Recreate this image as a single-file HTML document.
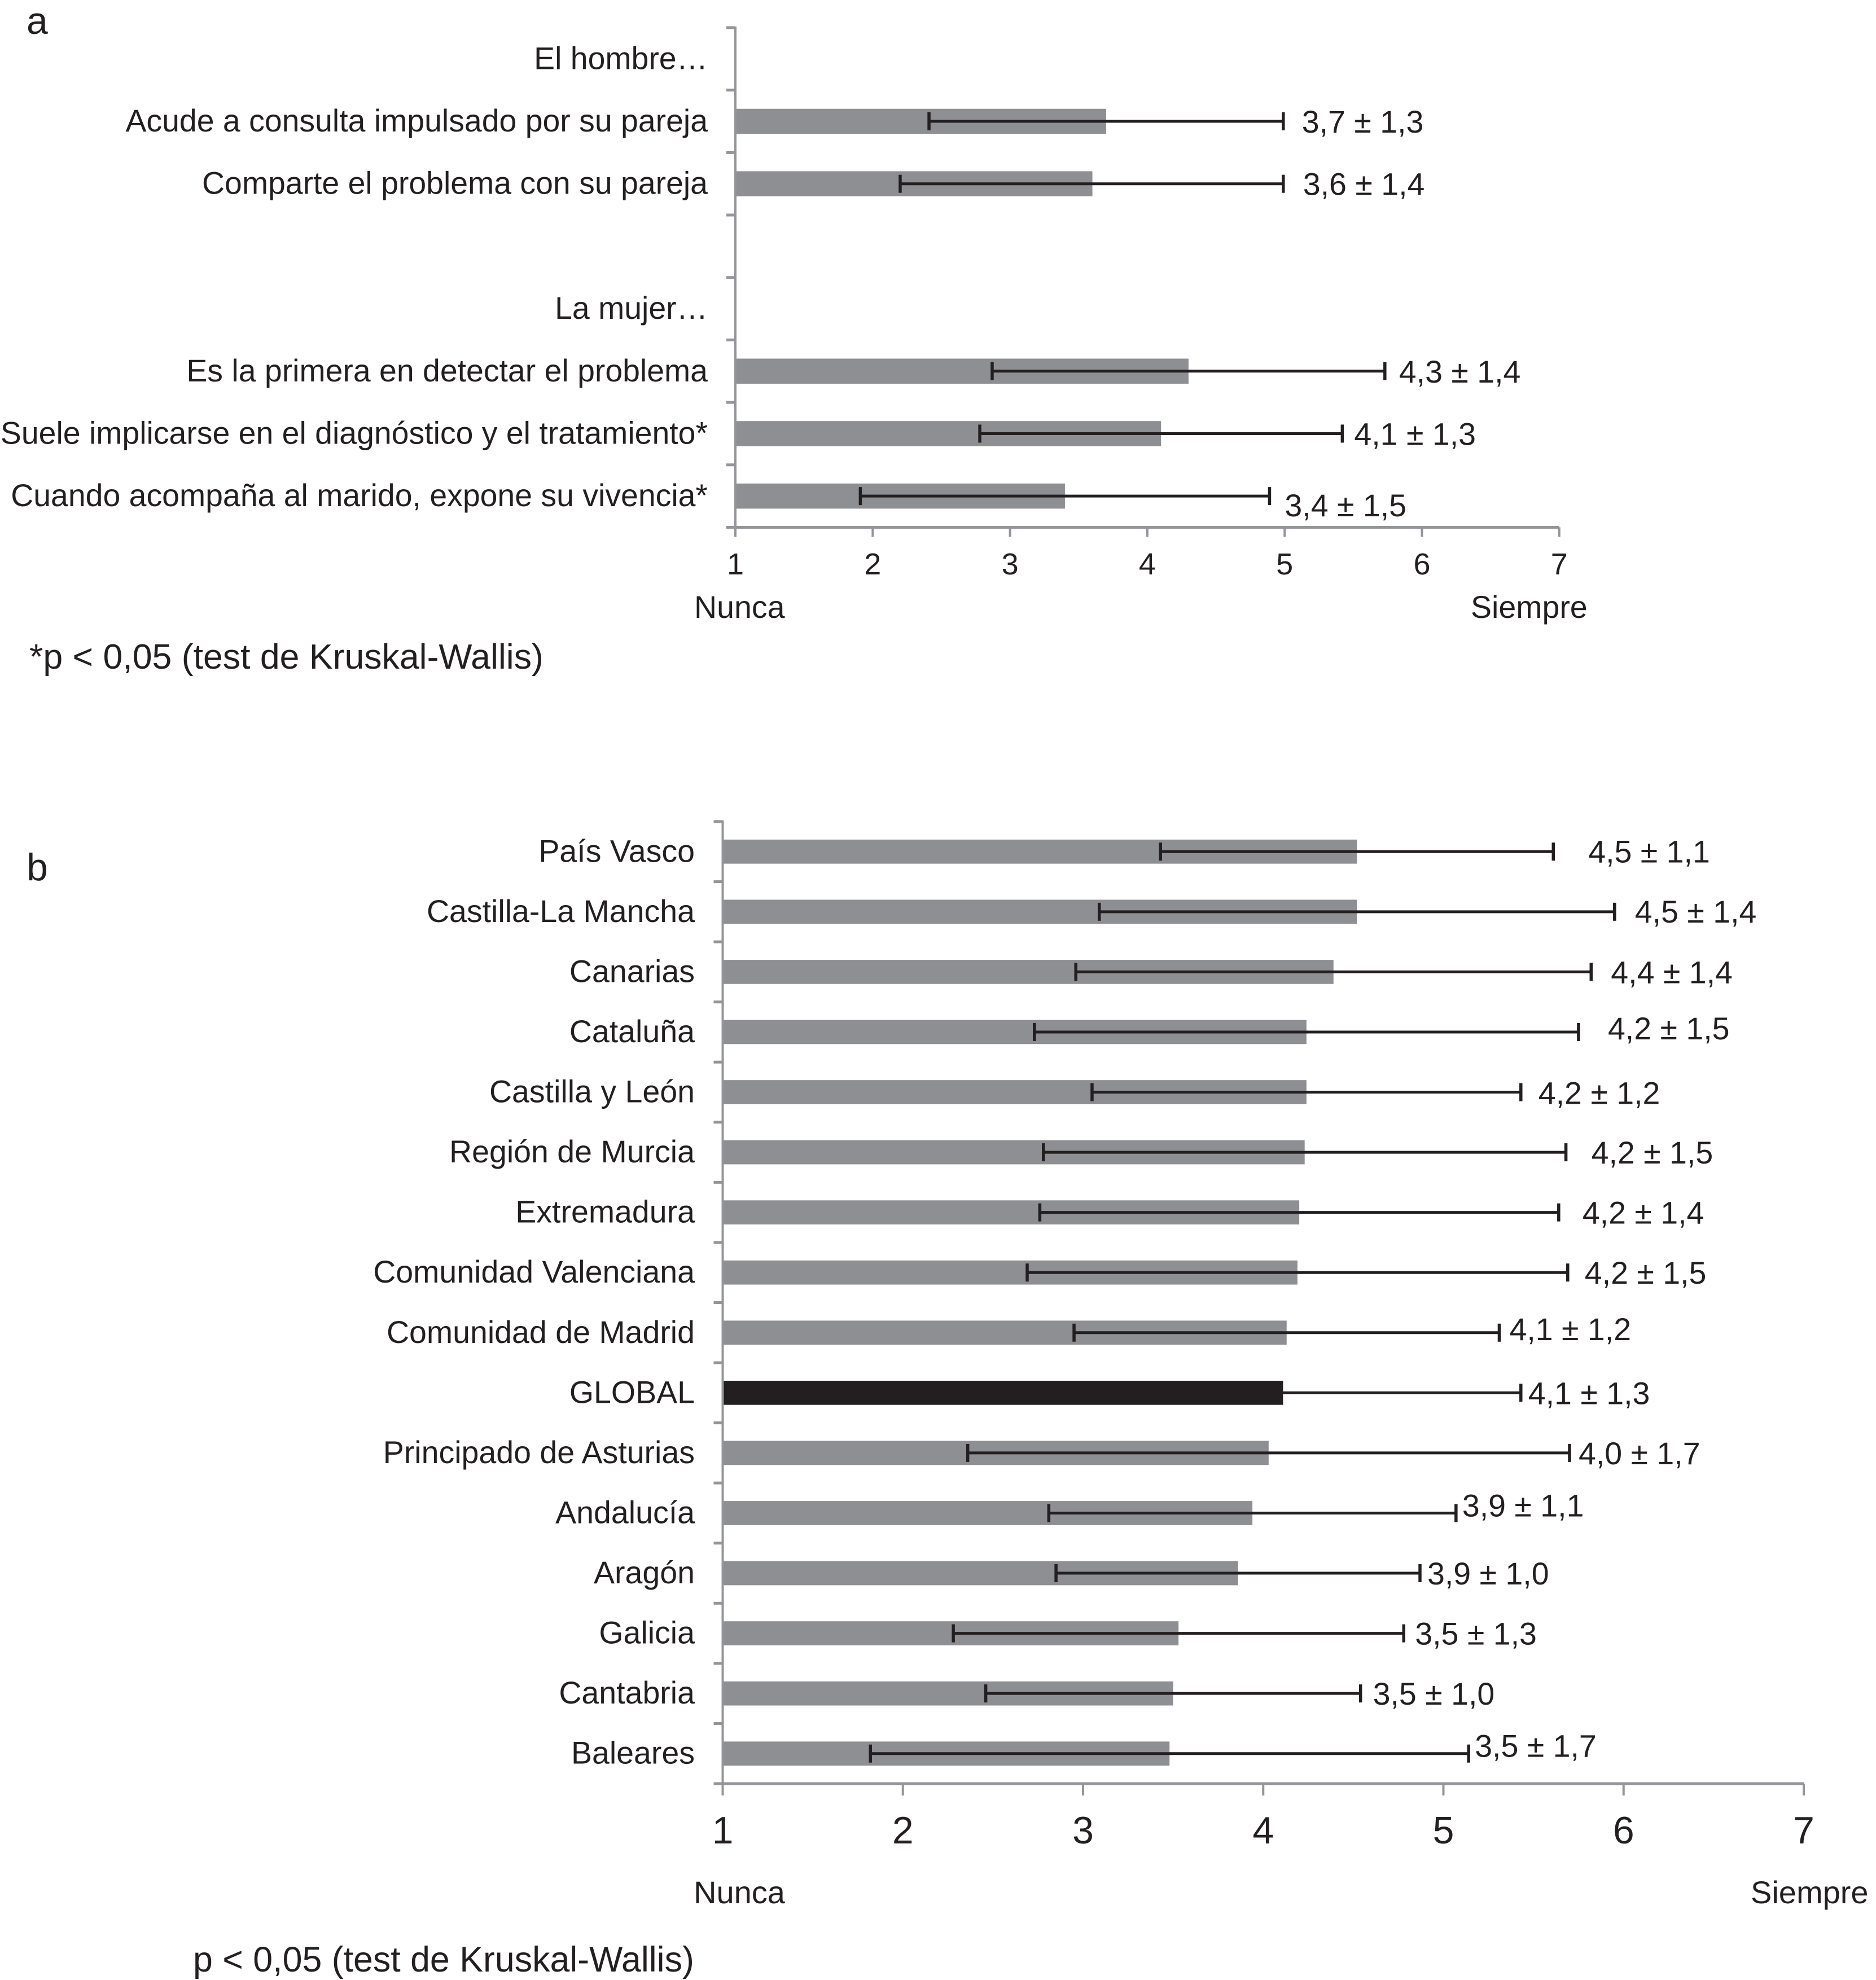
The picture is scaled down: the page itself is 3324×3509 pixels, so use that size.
<!DOCTYPE html>
<html lang="es">
<head>
<meta charset="utf-8">
<title>Gráfico de barras</title>
<style>
html,body{margin:0;padding:0;background:#fff;width:3324px;height:3509px;overflow:hidden}
svg{display:block}
text{font-family:"Liberation Sans",sans-serif;fill:#231f20}
</style>
</head>
<body>
<svg id="chart" xmlns="http://www.w3.org/2000/svg" width="3324" height="3509" viewBox="0 0 3324 3509">
<rect x="0" y="0" width="3324" height="3509" fill="#fff"/>
<text x="47" y="60" font-size="68">a</text>
<text x="47" y="1560" font-size="68">b</text>
<text x="52" y="1185" font-size="62.6">*p &lt; 0,05 (test de Kruskal-Wallis)</text>
<text x="342" y="3494" font-size="62.7">p &lt; 0,05 (test de Kruskal-Wallis)</text>
<g id="panel-a"></g>
<g id="panel-b"></g>
</svg>
<script>
const xTickLabels = [1, 2, 3, 4, 5, 6, 7];

const panelACategories = ["El hombre…", "Acude a consulta impulsado por su pareja", "Comparte el problema con su pareja", "", "La mujer…", "Es la primera en detectar el problema", "Suele implicarse en el diagnóstico y el tratamiento*", "Cuando acompaña al marido, expone su vivencia*"];
const panelAMeans = [null, 3.70, 3.60, null, null, 4.30, 4.10, 3.40];
const panelALower = [null, 2.41, 2.20, null, null, 2.87, 2.78, 1.91];
const panelAUpper = [null, 4.99, 4.99, null, null, 5.73, 5.42, 4.89];
const panelAValueLabels = [null, "3,7 ± 1,3", "3,6 ± 1,4", null, null, "4,3 ± 1,4", "4,1 ± 1,3", "3,4 ± 1,5"];

const panelBCategories = ["País Vasco", "Castilla-La Mancha", "Canarias", "Cataluña", "Castilla y León", "Región de Murcia", "Extremadura", "Comunidad Valenciana", "Comunidad de Madrid", "GLOBAL", "Principado de Asturias", "Andalucía", "Aragón", "Galicia", "Cantabria", "Baleares"];
const panelBMeans = [4.52, 4.52, 4.39, 4.24, 4.24, 4.23, 4.20, 4.19, 4.13, 4.11, 4.03, 3.94, 3.86, 3.53, 3.50, 3.48];
const panelBLower = [3.43, 3.09, 2.96, 2.73, 3.05, 2.78, 2.76, 2.69, 2.95, 2.81, 2.36, 2.81, 2.85, 2.28, 2.46, 1.82];
const panelBUpper = [5.61, 5.95, 5.82, 5.75, 5.43, 5.68, 5.64, 5.69, 5.31, 5.43, 5.70, 5.07, 4.87, 4.78, 4.54, 5.14];
const panelBValueLabels = ["4,5 ± 1,1", "4,5 ± 1,4", "4,4 ± 1,4", "4,2 ± 1,5", "4,2 ± 1,2", "4,2 ± 1,5", "4,2 ± 1,4", "4,2 ± 1,5", "4,1 ± 1,2", "4,1 ± 1,3", "4,0 ± 1,7", "3,9 ± 1,1", "3,9 ± 1,0", "3,5 ± 1,3", "3,5 ± 1,0", "3,5 ± 1,7"];

/* Layout only: hand placement of the printed value relative to each whisker end. */
const panelALabelLayout = {gapX: [0, 33, 35, 0, 0, 25, 21, 27], gapY: [0, 2, 2, 0, 0, 2, 2, 18]};
const panelBLabelLayout = {gapX: [62, 36, 35, 52, 31, 45, 42, 30, 18, 13, 16, 11, 13, 20, 22, 11], gapY: [1, 1, 2, -5, 3, 2, 2, 2, -5, 2, 2, -12, 2, 2, 2, -12]};

const SVG_NS = "http://www.w3.org/2000/svg";
const INK = "#231f20";
const BAR_GREY = "#8e8f92";
const AXIS_GREY = "#939598";

function makeEl(tag, parent) {
  const el = document.createElementNS(SVG_NS, tag);
  parent.appendChild(el);
  return el;
}

function drawLine(parent, x1, y1, x2, y2, stroke, width) {
  const el = makeEl("line", parent);
  el.setAttribute("x1", x1);
  el.setAttribute("y1", y1);
  el.setAttribute("x2", x2);
  el.setAttribute("y2", y2);
  el.setAttribute("stroke", stroke);
  el.setAttribute("stroke-width", width);
  return el;
}

function drawText(parent, x, y, size, anchor, content) {
  const el = makeEl("text", parent);
  el.setAttribute("x", x);
  el.setAttribute("y", y);
  el.setAttribute("font-size", size);
  el.setAttribute("text-anchor", anchor);
  el.textContent = content;
  return el;
}

function slug(s) {
  return s.toLowerCase().normalize("NFD").replace(/[\u0300-\u036f]/g, "").replace(/[^a-z0-9]+/g, "-").replace(/^-|-$/g, "");
}

function drawPanel(cfg) {
  const g = document.getElementById(cfg.id);
  const xScale = v => cfg.x0 + (v - 1) * cfg.unit;
  const n = cfg.categories.length;
  const band = (cfg.bottom - cfg.top) / n;
  const yCenter = i => cfg.top + band * (i + 0.5);

  const yAxis = drawLine(g, cfg.x0, cfg.top - 2, cfg.x0, cfg.bottom, AXIS_GREY, 4);
  
  

  for (let i = 0; i <= n; i++) {
    const tickY = cfg.top + band * i;
    const tick = drawLine(g, cfg.x0 - 16, tickY, cfg.x0, tickY, AXIS_GREY, 5);
    
    
  }

  cfg.categories.forEach((cat, i) => {
    const cy = yCenter(i);
    if (cat) {
      const label = drawText(g, cfg.labelRight, cy + 18, cfg.labelSize, "end", cat);
      
      
    }
    if (cfg.means[i] === null) return;
    const barRect = makeEl("rect", g);
    barRect.setAttribute("x", cfg.x0 + 2);
    barRect.setAttribute("y", cy - cfg.barHeight / 2);
    barRect.setAttribute("width", xScale(cfg.means[i]) - cfg.x0 - 2);
    barRect.setAttribute("height", cfg.barHeight);
    barRect.setAttribute("fill", cat === "GLOBAL" ? INK : BAR_GREY);
    
    

    const whisker = drawLine(g, xScale(cfg.lower[i]), cy, xScale(cfg.upper[i]), cy, INK, 5);
    
    
    const capLow = drawLine(g, xScale(cfg.lower[i]), cy - 16, xScale(cfg.lower[i]), cy + 16, INK, 5.5);
    
    
    const capHigh = drawLine(g, xScale(cfg.upper[i]), cy - 16, xScale(cfg.upper[i]), cy + 16, INK, 5.5);
    
    

    const valueLabel = drawText(g, xScale(cfg.upper[i]) + cfg.layout.gapX[i], cy + 18 + cfg.layout.gapY[i], cfg.valueSize, "start", cfg.valueLabels[i]);
    
    
  });

  const xAxis = drawLine(g, cfg.x0 - 16, cfg.bottom, xScale(7), cfg.bottom, AXIS_GREY, 5);
  
  

  xTickLabels.forEach(t => {
    const tick = drawLine(g, xScale(t), cfg.bottom, xScale(t), cfg.bottom + cfg.tickLen, AXIS_GREY, 4);
    
    
    const tickLabel = drawText(g, xScale(t), cfg.tickBase, cfg.tickSize, "middle", String(t));
    
    
  });

  const nunca = drawText(g, cfg.nuncaX, cfg.endBase, cfg.endSize, "start", "Nunca");
  
  
  const siempre = drawText(g, cfg.siempreX, cfg.endBase, cfg.endSize, "start", "Siempre");
  
  
}

drawPanel({
  id: "panel-a", prefix: "panel-a",
  categories: panelACategories, means: panelAMeans, lower: panelALower, upper: panelAUpper,
  valueLabels: panelAValueLabels, layout: panelALabelLayout,
  x0: 1303, unit: 243.3, top: 49, bottom: 934.5, barHeight: 44.5,
  labelRight: 1254, labelSize: 55.4, valueSize: 55.5,
  tickLen: 17, tickBase: 1018, tickSize: 54, endBase: 1095, endSize: 55.5, nuncaX: 1230, siempreX: 2606
});

drawPanel({
  id: "panel-b", prefix: "panel-b",
  categories: panelBCategories, means: panelBMeans, lower: panelBLower, upper: panelBUpper,
  valueLabels: panelBValueLabels, layout: panelBLabelLayout,
  x0: 1280.5, unit: 319.25, top: 1456, bottom: 3161, barHeight: 42.7,
  labelRight: 1231, labelSize: 55.5, valueSize: 55.5,
  tickLen: 21, tickBase: 3267, tickSize: 68, endBase: 3373, endSize: 56, nuncaX: 1229, siempreX: 3102
});
</script>
</body>
</html>
